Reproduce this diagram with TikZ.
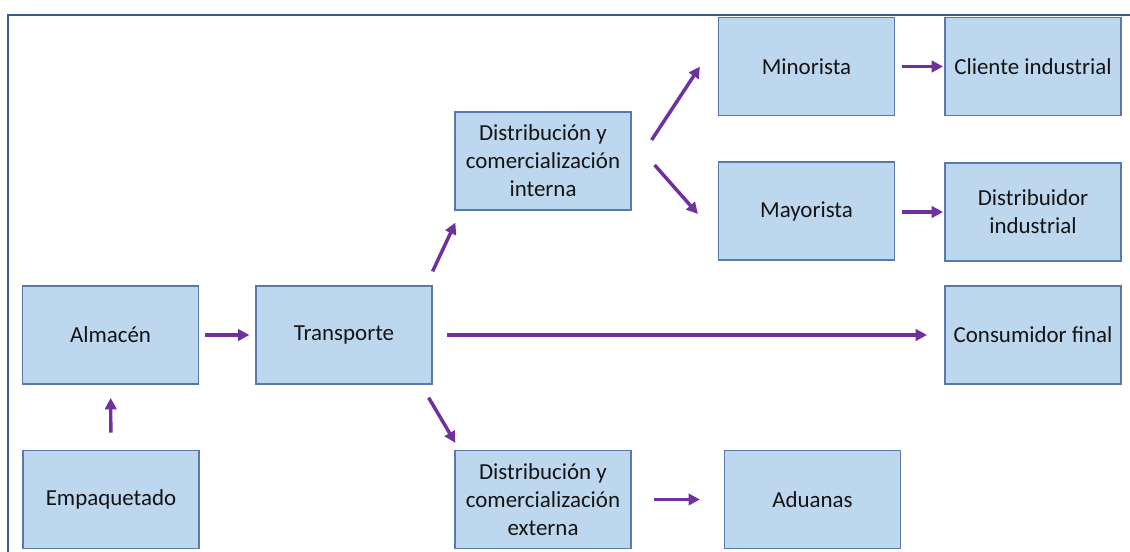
\documentclass[tikz,border=0pt]{standalone}
\usepackage{fontspec}
\setmainfont{Carlito}
\usetikzlibrary{arrows.meta,calc}
\definecolor{boxfill}{HTML}{BDD7EE}
\definecolor{boxline}{HTML}{5878AE}
\definecolor{frameline}{HTML}{3A5A94}
\definecolor{arrowc}{HTML}{7030A0}
\definecolor{txt}{HTML}{141414}
\tikzset{
  box/.style={draw=boxline, line width=0.9pt, fill=boxfill, minimum width=132pt, minimum height=73.5pt,
    inner sep=2pt, align=center, text=txt, font=\fontsize{17.2}{21}\selectfont},
  flow/.style={draw=arrowc, line width=2.6pt, -{Triangle[length=8.5pt,width=8.5pt]}},
}
\begin{document}
\begin{tikzpicture}[x=0.75pt,y=-0.75pt]
\useasboundingbox (0,0) rectangle (1130,552);
\draw[frameline, line width=1.2pt] (8,560) -- (8,15) -- (1140,15);
\node[box] (alm) at (110.5,335) {Almacén};
\node[box] (trans) at (344,335) {Transporte};
\node[box] (emp) at (111,499.5) {Empaquetado};
\node[box] (dext) at (543,499.5) {Distribución y\\comercialización\\externa};
\node[box] (adu) at (812.5,499.5) {Aduanas};
\node[box] (dint) at (543,161) {Distribución y\\comercialización\\interna};
\node[box] (mino) at (806.5,66.5) {Minorista};
\node[box] (cli) at (1033,66.5) {Cliente industrial};
\node[box] (mayo) at (806.5,211) {Mayorista};
\node[box] (dist) at (1033,212) {Distribuidor\\industrial};
\node[box] (cons) at (1033,335) {Consumidor final};
\draw[flow, shorten <=4.5pt, shorten >=4.5pt] (alm) -- (trans);
\draw[flow, shorten <=13pt, shorten >=10pt] (emp) -- (alm);
\draw[flow, shorten <=11pt, shorten >=13pt] (trans) -- (cons);
\draw[flow, shorten <=5pt, shorten >=1pt] (mino) -- (cli);
\draw[flow, shorten <=5pt, shorten >=1pt] (mayo.east |- dist) -- (dist);
\draw[flow, shorten <=17pt, shorten >=18pt] (dext) -- (adu);
\draw[flow] ($(trans.north east)+(0,-14)$) -- ($(dint.south west)+(1,12)$);
\draw[flow] ($(trans.south east)+(-4,13)$) -- ($(dext.north west)+(1,-7)$);
\draw[flow] ($(dint.east)+(20,-21)$) -- ($(mino.west)+(-18,0)$);
\draw[flow] ($(dint.east)+(23,4)$) -- ($(mayo.west)+(-20,3)$);
\end{tikzpicture}
\end{document}
